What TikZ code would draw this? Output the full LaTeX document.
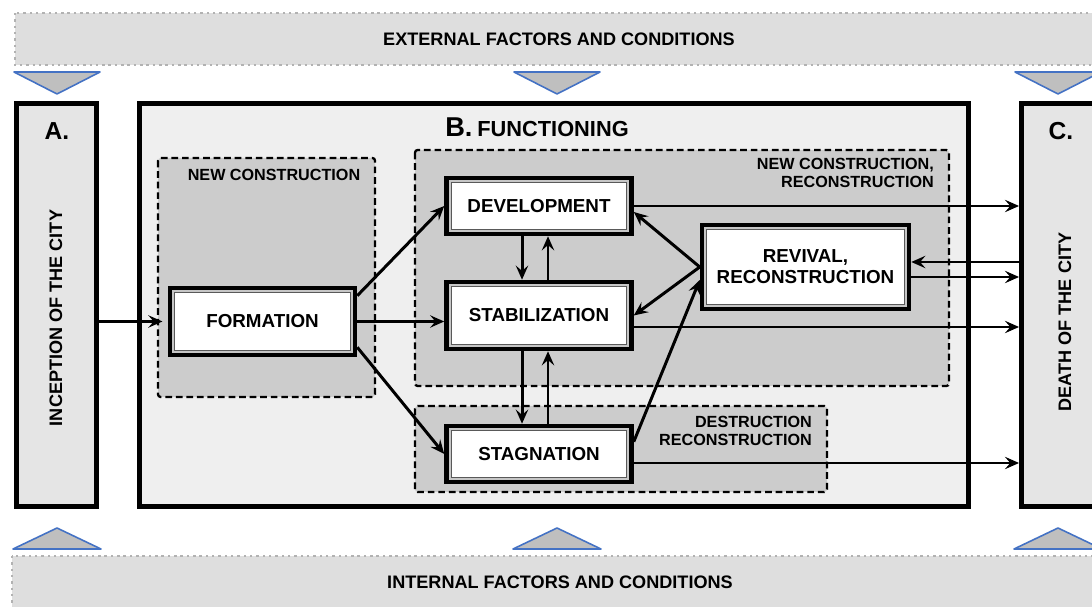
\documentclass[tikz,border=0pt]{standalone}
\usepackage{fontspec}
\setsansfont{Liberation Sans}
\usetikzlibrary{arrows.meta}

\definecolor{bandgray}{RGB}{222,222,222}
\definecolor{framegray}{RGB}{229,229,229}
\definecolor{innergray}{RGB}{239,239,239}
\definecolor{zonegray}{RGB}{204,204,204}
\definecolor{trifill}{RGB}{191,191,191}
\definecolor{triblue}{RGB}{68,114,196}

\begin{document}
\begin{tikzpicture}[x=0.02cm, y=-0.02cm,
  font=\sffamily\bfseries,
  band/.style={fill=bandgray, draw=gray!60, line width=1.4pt, dash pattern=on 1.4pt off 2.2pt},
  tri/.style={fill=trifill, draw=triblue, line width=0.9pt, line join=round},
  frame/.style={draw, line width=2.8pt, inner sep=0pt, minimum height=8.07cm},
  zone/.style={fill=zonegray, draw, line width=1.3pt, dash pattern=on 3.8pt off 2.2pt, rounded corners=1.5pt},
  stage/.style={draw, fill=white, line width=2.6pt, inner sep=0pt, minimum width=3.7cm, align=center,
    font=\sffamily\bfseries\fontsize{10.7}{12}\selectfont},
  zonelabel/.style={font=\sffamily\bfseries\fontsize{9.2}{10.2}\selectfont, align=right},
  biglabel/.style={font=\sffamily\bfseries\fontsize{10.3}{12}\selectfont},
  link/.style={line width=1.7pt, -{Stealth[length=8pt,width=7pt,inset=3pt]}}]
\useasboundingbox (0,0) rectangle (1092,607);
\clip (0,0) rectangle (1092,607);

% factor bands
\draw[band] (15,13) rectangle (1110,65);
\node[biglabel] (ext) at (559,39) {EXTERNAL FACTORS AND CONDITIONS};
\draw[band] (12,556) rectangle (1110,625);
\node[biglabel] (int) at (560,582) {INTERNAL FACTORS AND CONDITIONS};
\foreach \x in {57,557,1058} {
  \draw[tri] (\x-43,72) -- (\x+43,72) -- (\x,94) -- cycle;
  \draw[tri] (\x-44,549) -- (\x+44,549) -- (\x,528) -- cycle;
}

% A, B, C
\node[frame, fill=framegray, minimum width=1.6cm] (A) at (56.5,305) {};
\node[frame, fill=innergray, minimum width=16.58cm] (B) at (554,305) {};
\node[frame, fill=framegray, minimum width=1.6cm] (C) at (1061.5,305) {};
\node[font=\sffamily\bfseries\fontsize{14}{16}\selectfont] (Alab) at (57,131) {A.};
\node[font=\sffamily\bfseries\fontsize{14}{16}\selectfont] (Clab) at (1061,131) {C.};
\node[biglabel, rotate=90] (Atext) at (56,318) {INCEPTION OF THE CITY};
\node[biglabel, rotate=90] (Ctext) at (1065,322) {DEATH OF THE CITY};
\node (Blab) at (537,127) {{\fontsize{15.5}{16}\selectfont B.} {\fontsize{12.4}{14}\selectfont FUNCTIONING}};

% dashed zones
\draw[zone] (158,158) rectangle (375,397);
\draw[zone] (415,150) rectangle (949,386);
\draw[zone] (415,406) rectangle (827,492);
\node[zonelabel] (newc) at (274,175) {NEW CONSTRUCTION};
\node[zonelabel, anchor=east] (newre) at (940,173) {NEW CONSTRUCTION,\\RECONSTRUCTION};
\node[zonelabel, anchor=east] (destr) at (818,431) {DESTRUCTION\\RECONSTRUCTION};

% stages
\node[stage, minimum height=1.34cm] (form) at (262.5,321.5) {FORMATION};
\node[stage, minimum height=1.12cm] (devel) at (539,206) {DEVELOPMENT};
\node[stage, minimum height=1.34cm] (stab) at (539,315.5) {STABILIZATION};
\node[stage, minimum height=1.12cm] (stag) at (539,454) {STAGNATION};
\node[stage, minimum width=4.14cm, minimum height=1.68cm] (reviv) at (805.5,267) {REVIVAL,\\RECONSTRUCTION};
\foreach \n in {form,devel,stab,stag,reviv} {
  \draw[gray!45, line width=1pt] ([shift={(3.1pt,3.1pt)}]\n.south west) rectangle ([shift={(-3.1pt,-3.1pt)}]\n.north east);
  \draw[black!65, line width=0.6pt] ([shift={(3.9pt,3.9pt)}]\n.south west) rectangle ([shift={(-3.9pt,-3.9pt)}]\n.north east);
}

% connectors
\draw[link, shorten >=3pt] (A.east |- form.west) -- (form.west);
\draw[link] ([yshift=-0.2cm]form.north east) -- (devel.west);
\draw[link] (form.east) -- (form.east -| stab.west);
\draw[link] ([yshift=0.2cm]form.south east) -- (stag.west);
\draw[link] ([xshift=-0.34cm]devel.south) -- ([xshift=-0.34cm]stab.north);
\draw[link] ([xshift=0.18cm]stab.north) -- ([xshift=0.18cm]devel.south);
\draw[link] ([xshift=-0.34cm]stab.south) -- ([xshift=-0.34cm]stag.north);
\draw[link] ([xshift=0.18cm]stag.north) -- ([xshift=0.18cm]stab.south);
\draw[link] (reviv.west) -- ([yshift=-0.12cm]devel.east);
\draw[link] (reviv.west) -- (stab.east);
\draw[link] ([yshift=-0.36cm]stag.north east) -- ([yshift=-0.26cm]reviv.west);
\draw[link] (devel.east) -- (devel.east -| C.west);
\draw[link] ([yshift=-0.23cm]stab.east) -- ([yshift=-0.23cm]stab.east -| C.west);
\draw[link] ([yshift=-0.18cm]stag.east) -- ([yshift=-0.18cm]stag.east -| C.west);
\draw[link] ([yshift=0.1cm]reviv.east -| C.west) -- ([yshift=0.1cm]reviv.east);
\draw[link] ([yshift=-0.2cm]reviv.east) -- ([yshift=-0.2cm]reviv.east -| C.west);
\end{tikzpicture}
\end{document}
